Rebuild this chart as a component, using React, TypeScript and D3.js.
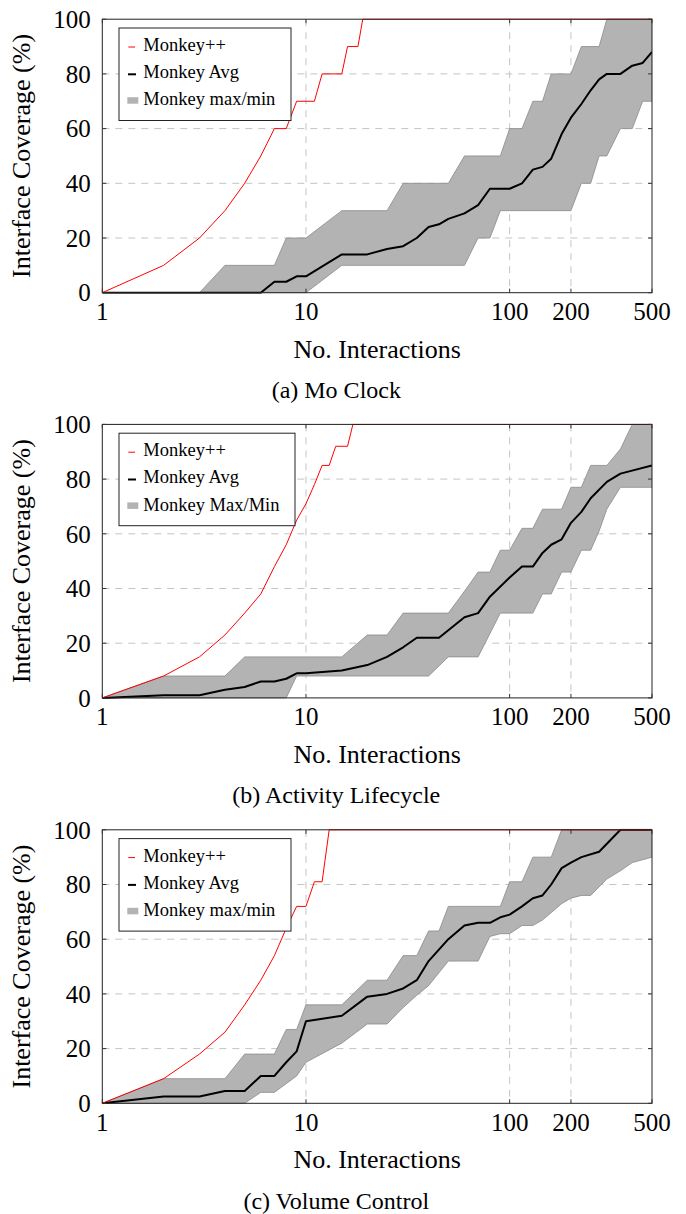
import React from "react";
import * as d3 from "d3";

// Cobertura de interfaz frente a nº de interacciones (escala log)
// cada serie: [interacciones, cobertura %]
type Pt = [number, number];

const xTicks = [1, 10, 100, 200, 500];
const yTicks = [0, 20, 40, 60, 80, 100];

// (a) Mo Clock
const clockPlus: Pt[] = [[1, 0], [2, 10], [3, 20], [4, 30], [5, 40], [6, 50], [7, 60], [8, 60], [9, 70], [11, 70], [12, 80], [15, 80], [16, 90], [18, 90], [19, 100], [500, 100]];
const clockAvg: Pt[] = [[1, 0], [6, 0], [7, 4], [8, 4], [9, 6], [10, 6], [15, 14], [20, 14], [25, 16], [30, 17], [35, 20], [40, 24], [45, 25], [50, 27], [60, 29], [70, 32], [80, 38], [100, 38], [115, 40], [130, 45], [145, 46], [160, 49], [180, 58], [200, 64], [225, 69], [250, 74], [275, 78], [300, 80], [350, 80], [400, 83], [450, 84], [500, 88]];
const clockMax: Pt[] = [[1, 0], [3, 0], [4, 10], [7, 10], [8, 20], [10, 20], [15, 30], [25, 30], [30, 40], [50, 40], [60, 50], [90, 50], [100, 60], [115, 60], [130, 70], [145, 70], [160, 80], [200, 80], [225, 90], [275, 90], [300, 100], [500, 100]];
const clockMin: Pt[] = [[1, 0], [10, 0], [15, 10], [60, 10], [70, 20], [80, 20], [90, 30], [200, 30], [225, 40], [250, 40], [275, 50], [300, 50], [350, 60], [400, 60], [450, 70], [500, 70]];

// (b) Activity Lifecycle
const lifePlus: Pt[] = [[1, 0], [2, 8], [3, 15], [4, 23], [5, 31], [6, 38], [7, 48], [8, 56], [9, 65], [10, 71], [11, 78], [12, 85], [13, 85], [14, 92], [16, 92], [17, 100], [500, 100]];
const lifeAvg: Pt[] = [[1, 0], [2, 1], [3, 1], [4, 3], [5, 4], [6, 6], [7, 6], [8, 7], [9, 9], [10, 9], [15, 10], [20, 12], [25, 15], [30, 18.5], [35, 22], [45, 22], [60, 29.5], [70, 31], [80, 37], [100, 44], [115, 48], [130, 48], [145, 53], [160, 56], [180, 58], [200, 64], [225, 68], [250, 73], [300, 79], [350, 82], [500, 85]];
const lifeMax: Pt[] = [[1, 0], [2, 8], [4, 8], [5, 15], [15, 15], [20, 23], [25, 23], [30, 31], [50, 31], [60, 39], [70, 46], [80, 46], [90, 54], [100, 54], [115, 62], [130, 62], [145, 69], [180, 69], [200, 77], [225, 77], [250, 85], [300, 85], [350, 91], [400, 100], [500, 100]];
const lifeMin: Pt[] = [[1, 0], [8, 0], [9, 8], [40, 8], [50, 15], [70, 15], [90, 31], [130, 31], [145, 38], [160, 38], [180, 46], [200, 46], [225, 54], [250, 54], [275, 61], [300, 69], [350, 77], [500, 77]];

// (c) Volume Control
const volPlus: Pt[] = [[1, 0], [2, 9], [3, 18], [4, 26], [5, 36], [6, 45], [7, 54], [8, 64], [9, 72], [10, 72], [11, 81], [12, 81], [13, 100], [500, 100]];
const volAvg: Pt[] = [[1, 0], [2, 2.5], [3, 2.5], [4, 4.5], [5, 4.5], [6, 10], [7, 10], [8, 15], [9, 19], [10, 30], [15, 32], [20, 39], [25, 40], [30, 42], [35, 45], [40, 52], [50, 60], [60, 65], [70, 66], [80, 66], [90, 68], [100, 69], [115, 72], [130, 75], [145, 76], [160, 80], [180, 86], [200, 88], [225, 90], [275, 92], [350, 100], [500, 100]];
const volMax: Pt[] = [[1, 0], [2, 9], [4, 9], [5, 18], [7, 18], [8, 27], [9, 27], [10, 36], [15, 36], [20, 45], [25, 45], [30, 54], [35, 54], [40, 63], [45, 63], [50, 72], [90, 72], [100, 81], [115, 81], [130, 90], [160, 90], [180, 100], [500, 100]];
const volMin: Pt[] = [[1, 0], [5, 0], [6, 4], [7, 4], [9, 10], [10, 15], [15, 22], [20, 29], [25, 29], [30, 35], [35, 39.5], [40, 43], [50, 52], [70, 52], [80, 61], [90, 62], [100, 62], [115, 65], [130, 65], [145, 67], [180, 73], [200, 75], [225, 76], [250, 76], [300, 82], [350, 85], [400, 88], [500, 90]];

const legendLabels = ["Monkey++", "Monkey Avg"];

const panels = [
  { id: "a", top: 19.2, plus: clockPlus, avg: clockAvg, max: clockMax, min: clockMin, band: "Monkey max/min", caption: "(a) Mo Clock", legendW: 172 },
  { id: "b", top: 424.4, plus: lifePlus, avg: lifeAvg, max: lifeMax, min: lifeMin, band: "Monkey Max/Min", caption: "(b) Activity Lifecycle", legendW: 176 },
  { id: "c", top: 829.8, plus: volPlus, avg: volAvg, max: volMax, min: volMin, band: "Monkey max/min", caption: "(c) Volume Control", legendW: 172 },
];

const W = 686;
const H = 1214;
const left = 102.3;
const right = 652;
const plotH = 273.5;
const font = "Liberation Serif, DejaVu Serif, serif";

const Panel = ({ p }: { p: (typeof panels)[number] }) => {
  const bottom = p.top + plotH;
  const x = d3.scaleLog().domain([1, 500]).range([left, right]);
  const y = d3.scaleLinear().domain([0, 100]).range([bottom, p.top]);
  const line = d3.line<Pt>().x((d) => x(d[0])).y((d) => y(d[1]));
  const band = line(p.max.concat(p.min.slice().reverse())) + "Z";
  const clipId = `clip-${p.id}`;
  const lx = 119;
  const ly = p.top + 8.8;

  return (
    <g>
      <defs>
        <clipPath id={clipId}>
          <rect x={left} y={p.top - 1} width={right - left} height={plotH + 2} />
        </clipPath>
      </defs>

      {/* rejilla */}
      {yTicks.slice(1, -1).map((t) => (
        <line key={"gy" + t} x1={left} x2={right} y1={y(t)} y2={y(t)} stroke="#c4c4c4" strokeDasharray="7,6" />
      ))}
      {xTicks.slice(1, -1).map((t) => (
        <line key={"gx" + t} x1={x(t)} x2={x(t)} y1={p.top} y2={bottom} stroke="#c4c4c4" strokeDasharray="7,6" />
      ))}

      <g clipPath={`url(#${clipId})`}>
        <path d={band} fill="#b3b3b3" stroke="#8a8a8a" strokeWidth={0.8} />
        <path d={line(p.avg) ?? ""} fill="none" stroke="black" strokeWidth={2} strokeLinejoin="round" />
        <path d={line(p.plus) ?? ""} fill="none" stroke="#ff0000" strokeWidth={1} />
      </g>

      {/* marco y marcas */}
      <rect x={left} y={p.top} width={right - left} height={plotH} fill="none" stroke="#222" strokeWidth={1} />
      {yTicks.map((t) => (
        <g key={"ty" + t}>
          <line x1={left} x2={left + 4} y1={y(t)} y2={y(t)} stroke="#333" />
          <line x1={right - 4} x2={right} y1={y(t)} y2={y(t)} stroke="#333" />
          <text x={90.7} y={y(t)} dy="0.35em" textAnchor="end" fontSize={25}>{t}</text>
        </g>
      ))}
      {xTicks.map((t) => (
        <g key={"tx" + t}>
          <line x1={x(t)} x2={x(t)} y1={bottom} y2={bottom - 4} stroke="#333" />
          <line x1={x(t)} x2={x(t)} y1={p.top} y2={p.top + 4} stroke="#333" />
          <text x={x(t)} y={bottom + 27.5} textAnchor="middle" fontSize={25}>{t}</text>
        </g>
      ))}

      <text x={(left + right) / 2} y={bottom + 65} textAnchor="middle" fontSize={26}>No. Interactions</text>
      <text transform={`translate(29.5, ${(p.top + bottom) / 2}) rotate(-90)`} textAnchor="middle" fontSize={26}>Interface Coverage (%)</text>
      <text x={336.3} y={bottom + 105.5} textAnchor="middle" fontSize={24}>{p.caption}</text>

      {/* leyenda */}
      <rect x={lx} y={ly} width={p.legendW} height={92.5} fill="white" stroke="#222" strokeWidth={1} />
      <line x1={lx + 9.3} x2={lx + 16} y1={ly + 19} y2={ly + 19} stroke="#ff0000" />
      <line x1={lx + 9} x2={lx + 17} y1={ly + 46.3} y2={ly + 46.3} stroke="black" strokeWidth={2} />
      <rect x={lx + 8.3} y={ly + 69.2} width={11} height={6.5} fill="#b3b3b3" />
      {[...legendLabels, p.band].map((s, i) => (
        <text key={s} x={lx + 24.3} y={ly + 23 + i * 27.2} fontSize={18.5}>{s}</text>
      ))}
    </g>
  );
};

export default function App() {
  return (
    <svg width={W} height={H} style={{ position: "absolute", left: 0, top: 0, background: "white", fontFamily: font }}>
      {panels.map((p) => (
        <Panel key={p.id} p={p} />
      ))}
    </svg>
  );
}
